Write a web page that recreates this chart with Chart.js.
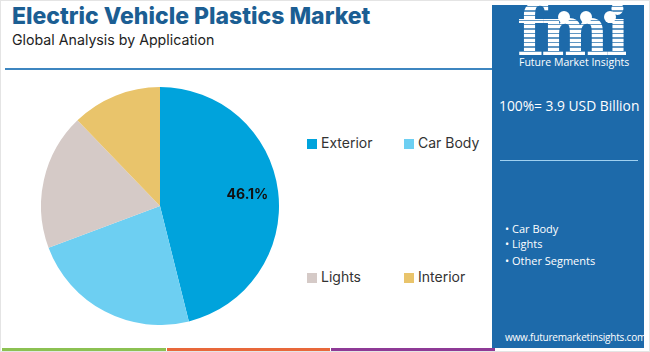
<!DOCTYPE html>
<html>
<head>
<meta charset="utf-8">
<script src="https://cdn.jsdelivr.net/npm/chart.js@4.4.1/dist/chart.umd.min.js"></script>
<style>
  html,body{margin:0;padding:0;background:#fff;}
  #root{position:relative;width:650px;height:352px;overflow:hidden;font-family:"Open Sans",sans-serif;}
  .border{position:absolute;left:0;top:0;width:648px;height:350px;border:1px solid #e4e4e4;}
  #title{position:absolute;left:12px;top:2px;font-family:Inter,sans-serif;font-weight:800;font-size:23px;color:#1b5e93;letter-spacing:0px;white-space:nowrap;}
  #subtitle{position:absolute;left:12px;top:31px;font-family:Inter,sans-serif;font-size:14.2px;color:#222;white-space:nowrap;}
  #hline{position:absolute;left:5px;top:68px;width:487px;height:2px;background:#3d86c0;}
  #panel{position:absolute;left:492px;top:5px;width:152px;height:343px;background:#1d6aaa;}
  #logo{position:absolute;left:517px;top:-6px;font-family:"DejaVu Serif",serif;font-weight:bold;font-size:70px;line-height:74px;letter-spacing:-4px;transform:scaleX(0.92);transform-origin:left top;
    background:repeating-linear-gradient(to bottom,#ffffff 0px,#ffffff 3px,rgba(255,255,255,0.3) 3px,rgba(255,255,255,0.3) 4.5px);
    -webkit-background-clip:text;background-clip:text;color:transparent;}
  .dot{position:absolute;width:12px;height:12px;border-radius:50%;background:#fff;}
  #fmitext{position:absolute;left:519px;top:55px;font-family:"Open Sans",sans-serif;font-size:10.5px;color:#fff;white-space:nowrap;}
  #total{position:absolute;left:499px;top:96px;font-family:"Open Sans",sans-serif;font-size:13.8px;color:#fff;white-space:nowrap;}
  #pline{position:absolute;left:500px;top:160px;width:138px;height:1px;background:#9fd0f0;}
  #bullets{position:absolute;left:505px;top:221px;font-family:"Open Sans",sans-serif;font-size:11px;color:#fff;line-height:15px;}
  #bullets div{white-space:nowrap;}
  #url{position:absolute;left:505px;top:330px;font-family:"Open Sans",sans-serif;font-size:10px;color:#fff;white-space:nowrap;letter-spacing:-0.2px;}
  .bar{position:absolute;top:348px;height:3px;}
  .leg{position:absolute;font-family:Inter,sans-serif;font-size:14px;color:#333;white-space:nowrap;}
  .leg span.sw{display:inline-block;width:10px;height:10px;margin-right:4px;vertical-align:-1px;}
  #chartbox{position:absolute;left:41px;top:87px;width:238px;height:238px;}
</style>
</head>
<body>
<div id="root">
  <div class="border"></div>
  <div id="title">Electric Vehicle Plastics Market</div>
  <div id="subtitle">Global Analysis by Application</div>
  <div id="hline"></div>
  <div id="panel"></div>
  <div id="logo">fmi</div>
  <div class="dot" style="left:558px;top:11px;"></div>
  <div class="dot" style="left:580px;top:11px;"></div>
  <div class="dot" style="left:604px;top:11px;"></div>
  <div id="fmitext">Future Market Insights</div>
  <div id="total"></div>
  <div id="pline"></div>
  <div id="bullets"></div>
  <div id="url">www.futuremarketinsights.com</div>
  <div class="bar" style="left:2px;width:164px;background:#8cc152;"></div>
  <div class="bar" style="left:167px;width:163px;background:#e8683a;"></div>
  <div class="bar" style="left:331px;width:164px;background:#8e3a96;"></div>
  <div id="legend"></div>
  <div id="chartbox"><canvas id="c"></canvas></div>
</div>
<script>
const categories = ["Exterior", "Car Body", "Lights", "Interior"];
const shares = [46.1, 23.2, 18.5, 12.2];
const colors = ["#00a3dc", "#6dcff2", "#d5cac7", "#e9c46b"];
const labelShown = [true, false, false, false];
const totalText = "100%= 3.9 USD Billion";
const bulletItems = ["Car Body", "Lights", "Other Segments"];
const legendPos = [[307,134],[404,134],[307,268],[404,268]];

document.getElementById('total').textContent = totalText;
document.getElementById('bullets').innerHTML = bulletItems.map((b,i)=>'<div style="margin-top:'+(i===2?'2px':'0')+'">\u2022 '+b+'</div>').join('');
document.getElementById('legend').innerHTML = categories.map((c,i)=>
  '<div class="leg" style="left:'+legendPos[i][0]+'px;top:'+legendPos[i][1]+'px"><span class="sw" style="background:'+colors[i]+'"></span>'+c+'</div>').join('');

const pctLabel = {
  id:'pctLabel',
  afterDatasetsDraw(chart){
    const ctx = chart.ctx;
    const meta = chart.getDatasetMeta(0);
    meta.data.forEach((arc,i)=>{
      if(!labelShown[i]) return;
      const mid = (arc.startAngle+arc.endAngle)/2;
      const r = arc.outerRadius*0.74;
      const x = arc.x + Math.cos(mid)*r;
      const y = arc.y + Math.sin(mid)*r;
      ctx.save();
      ctx.font = "bold 14px Inter, sans-serif";
      ctx.fillStyle = "#111";
      ctx.textAlign = "center";
      ctx.textBaseline = "middle";
      ctx.fillText(shares[i].toFixed(1)+"%", x, y);
      ctx.restore();
    });
  }
};

new Chart(document.getElementById('c'), {
  type:'pie',
  data:{labels:categories, datasets:[{data:shares, backgroundColor:colors, borderWidth:0}]},
  options:{
    responsive:true, maintainAspectRatio:false, animation:false,
    layout:{padding:0},
    plugins:{legend:{display:false}, tooltip:{enabled:false}}
  },
  plugins:[pctLabel]
});
</script>
</body>
</html>
